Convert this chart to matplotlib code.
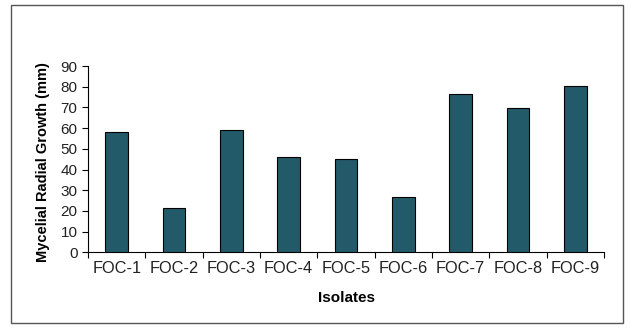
import matplotlib
matplotlib.use("Agg")
import matplotlib.pyplot as plt
from matplotlib.patches import Rectangle

categories = ["FOC-1", "FOC-2", "FOC-3", "FOC-4", "FOC-5", "FOC-6", "FOC-7", "FOC-8", "FOC-9"]
values = [58, 21.6, 59, 46, 45, 26.6, 76.4, 69.8, 80.3]
yticks = [0, 10, 20, 30, 40, 50, 60, 70, 80, 90]

plt.rcParams['font.family'] = ['Liberation Sans', 'DejaVu Sans']

fig = plt.figure(figsize=(6.3, 3.3), dpi=100)
fig.patches.append(Rectangle((11/630, 1 - 323/330), (622.5-11)/630, (323-5)/330,
                             transform=fig.transFigure, fill=False,
                             edgecolor='#555555', linewidth=1.0))
ax = fig.add_axes([88/630, 1 - 252.3/330, (604-88)/630, (252.3-66)/330])

x = list(range(len(categories)))
ax.bar(x, values, width=0.4, color='#235A69', edgecolor='black', linewidth=0.8, zorder=3)
ax.set_xlim(-0.5, len(categories) - 0.5)
ax.set_ylim(0, 90)
ax.set_yticks(yticks)
ax.set_yticklabels([str(t) for t in yticks], fontsize=11, color='#222222')

ax.set_xticks([i - 0.5 for i in range(len(categories) + 1)])
ax.set_xticklabels([])
ax.set_xticks(x, minor=True)
ax.set_xticklabels(categories, minor=True, fontsize=11.8, color='#222222')
ax.tick_params(axis='x', which='minor', length=0, pad=6)
ax.tick_params(axis='x', which='major', length=4, direction='out')
ax.tick_params(axis='y', length=4, direction='out', pad=3.5)

for s in ['top', 'right']:
    ax.spines[s].set_visible(False)
for s in ['left', 'bottom']:
    ax.spines[s].set_linewidth(0.8)

ax.set_ylabel("Mycelial Radial Growth (mm)", fontsize=10.5, fontweight='bold')
ax.yaxis.set_label_coords(43/630, 1 - 162/330, transform=fig.transFigure)
ax.set_xlabel("Isolates", fontsize=11, fontweight='bold')
ax.xaxis.set_label_coords((88+604)/2/630, 1 - 298/330, transform=fig.transFigure)
ax.xaxis.label.set_va('center')
ax.yaxis.label.set_va('center')

fig.savefig("out.png", dpi=100)
